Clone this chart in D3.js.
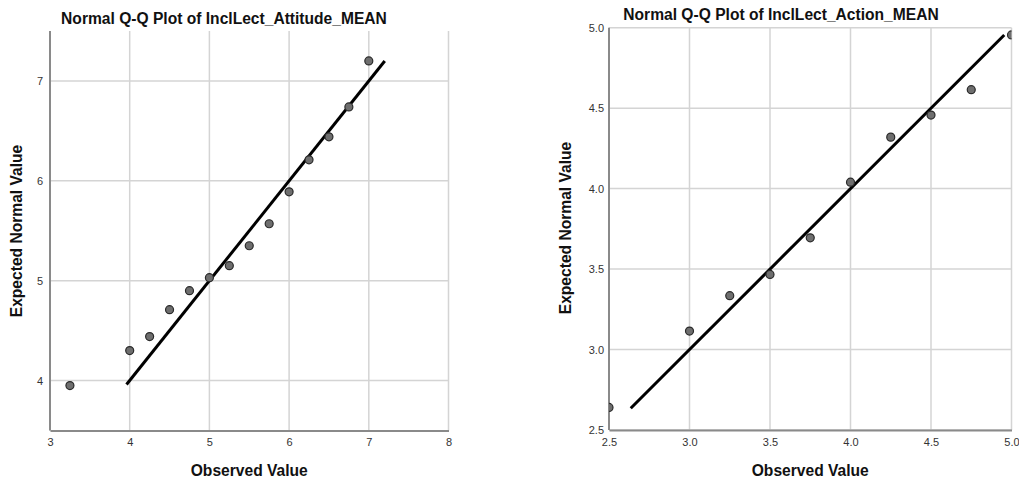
<!DOCTYPE html>
<html>
<head>
<meta charset="utf-8">
<script src="https://cdn.jsdelivr.net/npm/d3@7"></script>
<style>
  html, body { margin: 0; padding: 0; background: #fff; }
  svg { display: block; font-family: "Liberation Sans", Arial, sans-serif; }
</style>
</head>
<body>
<svg id="chart" width="1019" height="482"></svg>
<script>
// Attitude scale: observed scores and their expected normal values
const attitudeObserved = [3.25, 4.0, 4.25, 4.5, 4.75, 5.0, 5.25, 5.5, 5.75, 6.0, 6.25, 6.5, 6.75, 7.0];
const attitudeExpected = [3.95, 4.30, 4.44, 4.71, 4.90, 5.03, 5.15, 5.35, 5.57, 5.89, 6.21, 6.44, 6.74, 7.20];
const attitudeXTicks = [3, 4, 5, 6, 7, 8];
const attitudeYTicks = [4, 5, 6, 7];
const attitudeLine = [3.96, 7.2];

// Action scale
const actionObserved = [2.5, 3.0, 3.25, 3.5, 3.75, 4.0, 4.25, 4.5, 4.75, 5.0];
const actionExpected = [2.64, 3.115, 3.335, 3.467, 3.694, 4.04, 4.32, 4.457, 4.615, 4.955];
const actionXTicks = [2.5, 3.0, 3.5, 4.0, 4.5, 5.0];
const actionYTicks = [2.5, 3.0, 3.5, 4.0, 4.5, 5.0];
const actionLine = [2.635, 4.955];

const svg = d3.select("#chart");
const titleSize = "15.6px";

function qqPanel(cfg) {
  const g = svg.append("g");
  const x = d3.scaleLinear().domain(cfg.xDomain).range([cfg.left, cfg.right]);
  const y = d3.scaleLinear().domain(cfg.yDomain).range([cfg.bottom, cfg.top]);

  // grid
  const grid = g.append("g").attr("stroke", "#d4d4d4").attr("stroke-width", 1.5);
  grid.selectAll("line.gx").data(cfg.xTicks).join("line")
    .attr("x1", d => x(d)).attr("x2", d => x(d))
    .attr("y1", cfg.top).attr("y2", cfg.bottom);
  grid.selectAll("line.gy").data(cfg.yTicks).join("line")
    .attr("x1", cfg.left).attr("x2", cfg.right)
    .attr("y1", d => y(d)).attr("y2", d => y(d));

  // axes
  const xAxis = d3.axisBottom(x).tickValues(cfg.xTicks).tickSize(0).tickPadding(8)
    .tickFormat(cfg.fmt);
  const yAxis = d3.axisLeft(y).tickValues(cfg.yTicks).tickSize(0).tickPadding(cfg.yPad)
    .tickFormat(cfg.fmt);
  const gx = g.append("g").attr("transform", `translate(0,${cfg.bottom})`).call(xAxis);
  const gy = g.append("g").attr("transform", `translate(${cfg.left},0)`).call(yAxis);
  [gx, gy].forEach(a => {
    a.select(".domain").attr("stroke", "#8a8a8a").attr("stroke-width", 2);
    a.selectAll("text").attr("fill", "#333").style("font-size", "11px")
      .style("font-family", '"Liberation Sans", Arial, sans-serif');
  });
  gy.select(".domain").attr("d", `M0,${cfg.axisTop}V${cfg.bottom}`);

  // clipped plotting region
  const clipId = "clip-" + cfg.id;
  g.append("clipPath").attr("id", clipId).append("rect")
    .attr("x", cfg.left).attr("y", cfg.top - 10)
    .attr("width", cfg.right - cfg.left).attr("height", cfg.bottom - cfg.top + 10);
  const plot = g.append("g").attr("clip-path", `url(#${clipId})`);

  plot.append("line")
    .attr("x1", x(cfg.line[0])).attr("y1", y(cfg.line[0]))
    .attr("x2", x(cfg.line[1])).attr("y2", y(cfg.line[1]))
    .attr("stroke", "#000").attr("stroke-width", 3);

  plot.selectAll("circle").data(cfg.obs.map((o, i) => [o, cfg.exp[i]])).join("circle")
    .attr("cx", d => x(d[0])).attr("cy", d => y(d[1])).attr("r", 4)
    .attr("fill", "#6e6e6e").attr("stroke", "#2a2a2a").attr("stroke-width", 1.2);

  // titles
  g.append("text").attr("x", cfg.titleX).attr("y", cfg.titleY)
    .attr("text-anchor", "middle").style("font-size", titleSize).style("font-weight", "bold")
    .attr("fill", "#111").text(cfg.title);
  g.append("text").attr("x", (cfg.left + cfg.right) / 2).attr("y", 476)
    .attr("text-anchor", "middle").style("font-size", titleSize).style("font-weight", "bold")
    .attr("fill", "#111").text("Observed Value");
  g.append("text").attr("transform", `translate(${cfg.yTitleX},${cfg.yTitleY}) rotate(-90)`)
    .attr("text-anchor", "middle").style("font-size", titleSize).style("font-weight", "bold")
    .attr("fill", "#111").text("Expected Normal Value");
}

qqPanel({
  id: "attitude",
  xDomain: [3, 8], yDomain: [3.5, 7.5],
  left: 50, right: 448.5, top: 31, bottom: 430.5, axisTop: 31,
  xTicks: attitudeXTicks, yTicks: attitudeYTicks,
  fmt: d3.format("d"), yPad: 7,
  obs: attitudeObserved, exp: attitudeExpected, line: attitudeLine,
  title: "Normal Q-Q Plot of InclLect_Attitude_MEAN", titleX: 224, titleY: 24,
  yTitleX: 22, yTitleY: 231
});

qqPanel({
  id: "action",
  xDomain: [2.5, 5], yDomain: [2.5, 5],
  left: 609, right: 1011.5, top: 27.7, bottom: 430, axisTop: 27.7,
  xTicks: actionXTicks, yTicks: actionYTicks,
  fmt: d3.format(".1f"), yPad: 5,
  obs: actionObserved, exp: actionExpected, line: actionLine,
  title: "Normal Q-Q Plot of InclLect_Action_MEAN", titleX: 781, titleY: 20,
  yTitleX: 571, yTitleY: 228
});
</script>
</body>
</html>
